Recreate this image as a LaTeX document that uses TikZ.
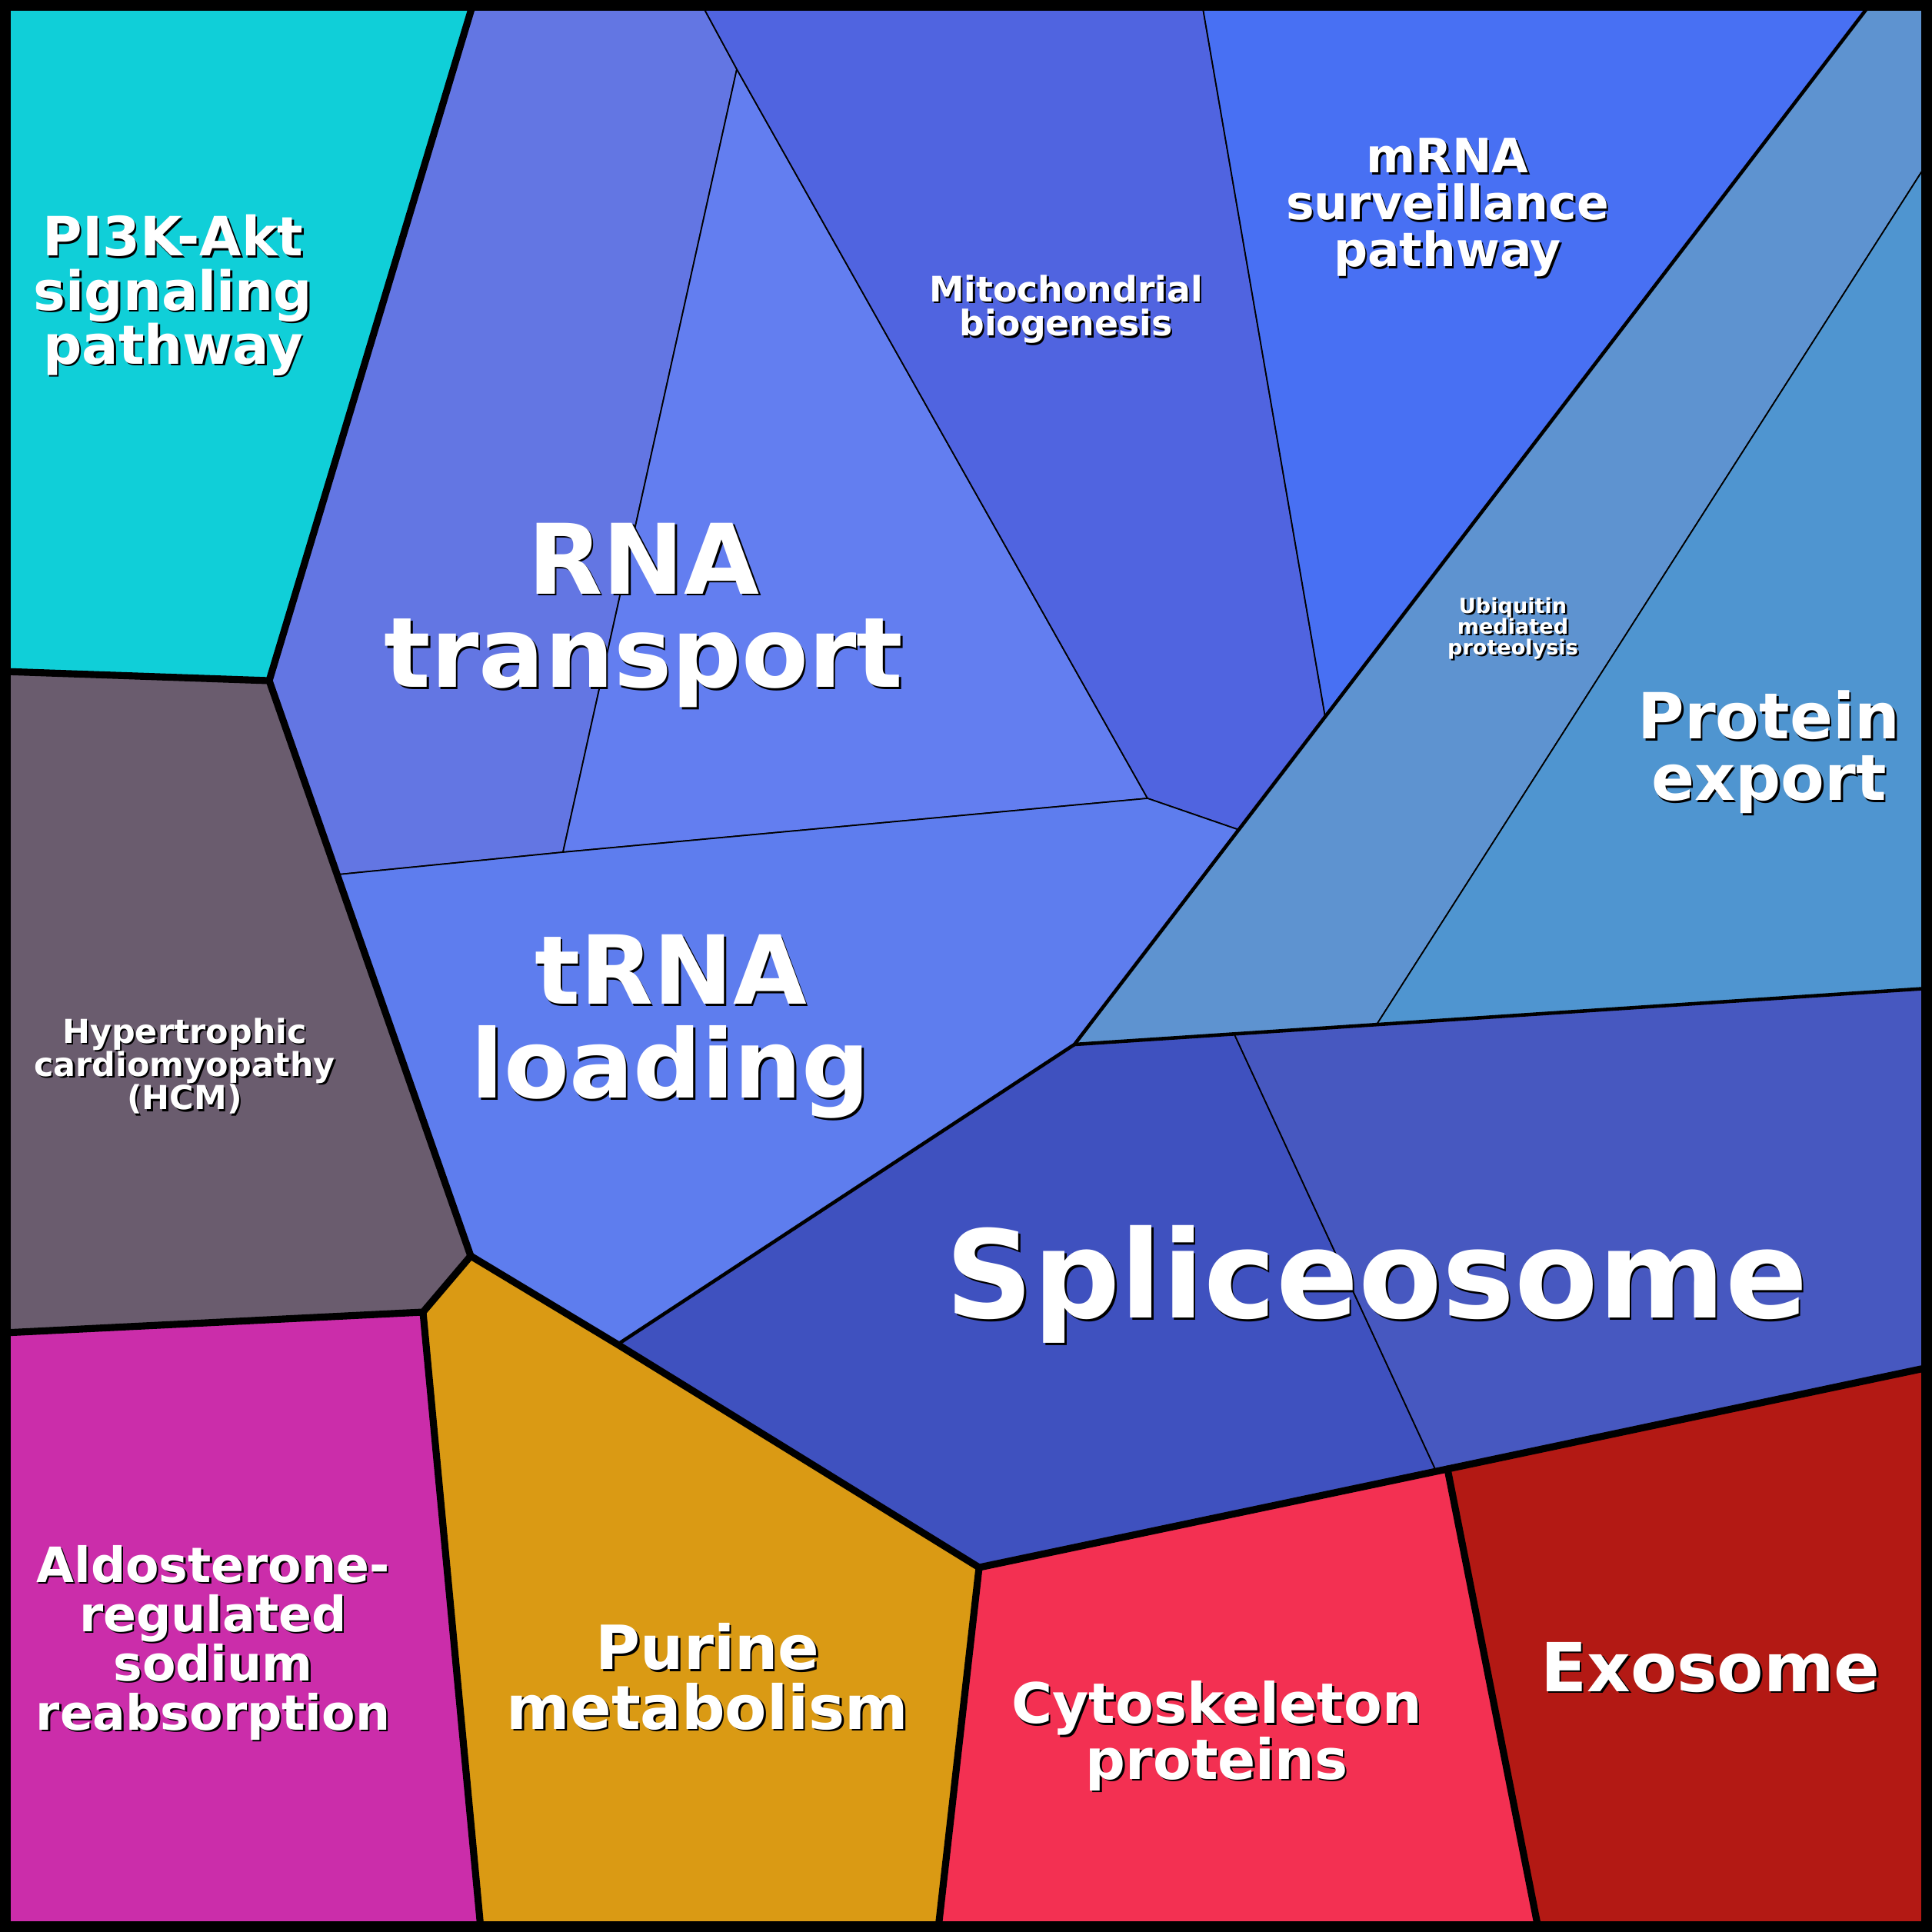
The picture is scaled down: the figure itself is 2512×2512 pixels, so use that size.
\documentclass[tikz,border=0pt]{standalone}
\usepackage{fontspec}
\setmainfont{DejaVu Sans}
\usetikzlibrary{calc}
\begin{document}
\begin{tikzpicture}[x=0.01cm,y=-0.01cm,
 reg/.style={draw=black,line width=0.5pt,line join=round},
 thick/.style={draw=black,line width=2.6pt,line join=round,line cap=round},
 med/.style={draw=black,line width=1.3pt,line join=round}]
\definecolor{cPI}{HTML}{10CFD8}\definecolor{cRA}{HTML}{6376E3}\definecolor{cRB}{HTML}{637EF0}
\definecolor{cMi}{HTML}{5064E0}\definecolor{cMr}{HTML}{4870F3}\definecolor{cUb}{HTML}{5E93D0}
\definecolor{cPE}{HTML}{4F95D0}\definecolor{cTR}{HTML}{5E7DEE}\definecolor{cHC}{HTML}{6A5C6E}
\definecolor{cSA}{HTML}{3F51BF}\definecolor{cSB}{HTML}{4758C0}\definecolor{cAl}{HTML}{CB2DAA}
\definecolor{cPu}{HTML}{DA9A14}\definecolor{cCy}{HTML}{F33052}\definecolor{cEx}{HTML}{B31914}
\useasboundingbox (0,0) rectangle (2512,2512);
\fill[black] (0,0) rectangle (2512,2512);
\path[reg,fill=cPI] (5,5)--(615,5)--(350,885)--(5,873)--cycle;
\path[reg,fill=cRA] (615,5)--(912,5)--(958,90)--(732,1108)--(440,1137)--(350,885)--cycle;
\path[reg,fill=cRB] (958,90)--(1492,1038)--(732,1108)--cycle;
\path[reg,fill=cMi] (912,5)--(1563,5)--(1723,932)--(1611,1079)--(1492,1038)--(958,90)--cycle;
\path[reg,fill=cMr] (1563,5)--(2432,5)--(1723,932)--cycle;
\path[reg,fill=cUb] (2432,5)--(2507,5)--(2507,210)--(1790,1332)--(1397,1358)--(1611,1079)--(1723,932)--cycle;
\path[reg,fill=cPE] (2507,210)--(2507,1285)--(1790,1332)--cycle;
\path[reg,fill=cTR] (440,1137)--(732,1108)--(1492,1038)--(1611,1079)--(1397,1358)--(803,1748)--(612,1633)--cycle;
\path[reg,fill=cHC] (5,873)--(350,885)--(612,1633)--(550,1706)--(5,1733)--cycle;
\path[reg,fill=cSA] (1397,1358)--(1605,1345)--(1866,1910)--(1273,2038)--(803,1748)--cycle;
\path[reg,fill=cSB] (1605,1345)--(2507,1285)--(2507,1778)--(1866,1910)--cycle;
\path[reg,fill=cAl] (5,1733)--(550,1706)--(625,2507)--(5,2507)--cycle;
\path[reg,fill=cPu] (550,1706)--(612,1633)--(803,1748)--(1273,2038)--(1220,2507)--(625,2507)--cycle;
\path[reg,fill=cCy] (1273,2038)--(1882,1910)--(2000,2507)--(1220,2507)--cycle;
\path[reg,fill=cEx] (1882,1910)--(2507,1778)--(2507,2507)--(2000,2507)--cycle;
\draw[med] (803,1748)--(1397,1358)--(2432,5);
\draw[med] (1397,1358)--(2507,1285);
\draw[thick] (615,5)--(350,885)--(5,873);
\draw[thick] (350,885)--(612,1633)--(550,1706)--(5,1733);
\draw[thick] (550,1706)--(625,2507);
\draw[thick] (612,1633)--(803,1748)--(1273,2038)--(1220,2507);
\draw[thick] (1273,2038)--(1882,1910)--(2507,1778);
\draw[thick] (1882,1910)--(2000,2507);
\draw[black,line width=5pt] (5,5) rectangle (2507,2507);
\newcommand{\lab}[5]{%
 \node[text=black,align=center,font=\bfseries\fontsize{#3}{#4}\selectfont] at ($(#1)+(2.5,2.5)$) {#5};
 \node[text=white,align=center,font=\bfseries\fontsize{#3}{#4}\selectfont] (#2) at (#1) {#5};}
\lab{225,384}{pi}{20}{20}{PI3K-Akt\\signaling\\pathway}
\lab{837,800}{rna}{36}{34.6}{RNA\\transport}
\lab{872,1335}{trna}{35.2}{34.6}{tRNA\\loading}
\lab{1386,402}{mito}{13}{12.7}{Mitochondrial\\biogenesis}
\lab{1882,270}{mrna}{17.5}{17.3}{mRNA\\surveillance\\pathway}
\lab{1967,817}{ubi}{7.7}{7.7}{Ubiquitin\\mediated\\proteolysis}
\lab{2300,978}{pe}{23.5}{22.8}{Protein\\export}
\lab{240,1386}{hcm}{12.2}{12.3}{Hypertrophic\\cardiomyopathy\\(HCM)}
\lab{1790,1670}{spl}{45}{40}{Spliceosome}
\lab{277,2136}{ald}{18}{18.2}{Aldosterone-\\regulated\\sodium\\reabsorption}
\lab{920,2180}{pur}{22.5}{22}{Purine\\metabolism}
\lab{1582,2257}{cyt}{20.6}{20.5}{Cytoskeleton\\proteins}
\lab{2224,2168}{exo}{25}{22}{Exosome}
\end{tikzpicture}
\end{document}
